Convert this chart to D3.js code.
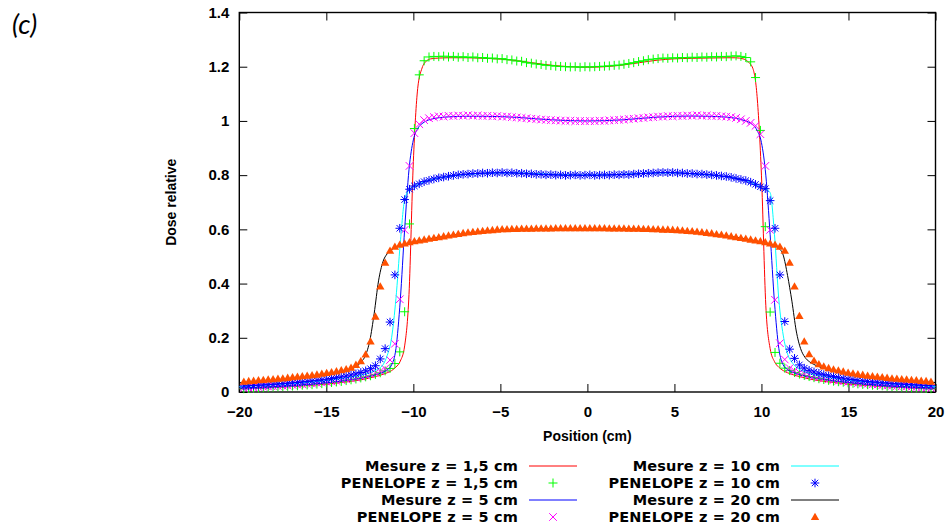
<!DOCTYPE html>
<html>
<head>
<meta charset="utf-8">
<script src="https://cdn.jsdelivr.net/npm/d3@7"></script>
<style>
  html, body { margin: 0; padding: 0; background: #ffffff; }
  svg { display: block; }
</style>
</head>
<body>
<svg id="chart" width="952" height="529"></svg>
<script>
// ---------------- DATA ----------------
const xTickValues = [-20, -15, -10, -5, 0, 5, 10, 15, 20];
const yTickValues = [0, 0.2, 0.4, 0.6, 0.8, 1, 1.2, 1.4];

// Measurement positions (cm)
const mesureX = [-20,-19,-18,-17,-16,-15,-14,-13.5,-13,-12.75,-12.5,-12.25,-12,-11.75,-11.5,-11.25,-11,-10.75,-10.5,-10.25,-10,-9.75,-9.5,-9.25,-9,-8.5,-8,-7,-6,-5,-4,-3,-2,-1,0,1,2,3,4,5,6,7,8,8.5,9,9.25,9.5,9.75,10,10.25,10.5,10.75,11,11.25,11.5,11.75,12,12.25,12.5,12.75,13,13.5,14,15,16,17,18,19,20];

const mesure15 = [0.012,0.014,0.017,0.020,0.024,0.029,0.036,
  0.040,0.045,0.048,0.052,0.056,0.060,0.065,0.071,0.079,0.092,
  0.114,0.17,0.36,0.85,1.12,1.195,1.221,1.229,
  1.232,1.233,1.233,1.231,1.228,1.222,1.213,1.205,1.200,
  1.198,
  1.200,1.206,1.215,1.224,1.229,1.231,1.232,1.233,1.233,
  1.228,1.217,1.195,1.09,0.80,0.32,0.16,0.112,
  0.091,0.079,0.071,0.065,0.060,0.056,0.052,0.048,0.045,0.040,
  0.036,0.029,0.024,0.020,0.017,0.014,0.012];

const mesure5 = [0.015,0.017,0.020,0.024,0.028,0.034,0.041,
  0.046,0.051,0.054,0.058,0.062,0.067,0.073,0.082,0.10,0.16,
  0.34,0.60,0.82,0.93,0.972,0.99,1.0,1.006,
  1.012,1.015,1.017,1.017,1.016,1.013,1.008,1.004,1.001,
  1.000,
  1.001,1.004,1.009,1.014,1.017,1.018,1.017,1.014,1.010,
  1.002,0.996,0.986,0.965,0.92,0.80,0.58,0.33,
  0.16,0.10,0.083,0.074,0.068,0.063,0.059,0.055,0.052,0.047,
  0.042,0.035,0.029,0.024,0.020,0.017,0.015];

const mesure10 = [0.020,0.023,0.027,0.031,0.036,0.042,0.051,
  0.056,0.062,0.066,0.071,0.077,0.086,0.10,0.135,0.20,0.345,
  0.55,0.71,0.745,0.757,0.765,0.772,0.778,0.783,
  0.790,0.795,0.802,0.806,0.808,0.808,0.806,0.803,0.801,
  0.800,
  0.801,0.803,0.806,0.808,0.808,0.805,0.800,0.794,0.789,
  0.782,0.777,0.770,0.762,0.752,0.748,0.735,0.58,
  0.34,0.21,0.14,0.11,0.092,0.082,0.075,0.069,0.064,0.058,
  0.052,0.043,0.037,0.032,0.027,0.023,0.020];

const mesure20 = [0.034,0.038,0.043,0.049,0.056,0.065,0.077,
  0.086,0.11,0.135,0.19,0.29,0.41,0.48,0.51,0.525,0.535,
  0.541,0.546,0.550,0.554,0.557,0.560,0.563,0.566,
  0.571,0.576,0.585,0.592,0.597,0.600,0.601,0.602,0.602,
  0.602,
  0.602,0.602,0.601,0.599,0.596,0.591,0.584,0.576,0.571,
  0.566,0.563,0.560,0.557,0.553,0.550,0.546,0.540,
  0.530,0.505,0.43,0.335,0.225,0.16,0.128,0.112,0.102,0.089,
  0.080,0.067,0.057,0.050,0.044,0.039,0.035];

// PENELOPE bin centres (cm)
const penX = [-19.74,-19.46,-19.18,-18.90,-18.62,-18.34,-18.06,-17.78,-17.50,-17.22,
  -16.94,-16.66,-16.38,-16.10,-15.82,-15.54,-15.26,-14.98,-14.70,-14.42,
  -14.14,-13.86,-13.58,-13.30,-13.02,-12.74,-12.46,-12.18,-11.90,-11.62,
  -11.34,-11.06,-10.78,-10.50,-10.22,-9.94,-9.66,-9.38,-9.10,-8.82,
  -8.54,-8.26,-7.98,-7.70,-7.42,-7.14,-6.86,-6.58,-6.30,-6.02,
  -5.74,-5.46,-5.18,-4.90,-4.62,-4.34,-4.06,-3.78,-3.50,-3.22,
  -2.94,-2.66,-2.38,-2.10,-1.82,-1.54,-1.26,-0.98,-0.70,-0.42,-0.14,
  0.14,0.42,0.70,0.98,1.26,1.54,1.82,2.10,2.38,2.66,
  2.94,3.22,3.50,3.78,4.06,4.34,4.62,4.90,5.18,5.46,
  5.74,6.02,6.30,6.58,6.86,7.14,7.42,7.70,7.98,8.26,
  8.54,8.82,9.10,9.38,9.66,9.94,10.22,10.50,10.78,11.06,
  11.34,11.62,11.90,12.18,12.46,12.74,13.02,13.30,13.58,13.86,
  14.14,14.42,14.70,14.98,15.26,15.54,15.82,16.10,16.38,16.66,
  16.94,17.22,17.50,17.78,18.06,18.34,18.62,18.90,19.18,19.46,19.74];

const penelope15 = [0.012,0.013,0.014,0.015,0.016,0.017,0.018,0.019,0.020,0.021,
  0.022,0.023,0.025,0.026,0.027,0.029,0.031,0.033,0.035,0.037,
  0.039,0.042,0.045,0.048,0.052,0.056,0.060,0.065,0.071,0.078,
  0.087,0.105,0.148,0.296,0.620,0.972,1.170,1.222,1.236,1.238,
  1.237,1.239,1.236,1.238,1.235,1.237,1.234,1.236,1.233,1.234,
  1.231,1.232,1.229,1.230,1.226,1.225,1.221,1.220,1.215,1.213,
  1.210,1.208,1.205,1.204,1.202,1.201,1.200,1.199,1.200,1.198,1.200,
  1.199,1.200,1.201,1.202,1.203,1.205,1.206,1.209,1.212,1.215,
  1.219,1.222,1.226,1.228,1.230,1.232,1.231,1.233,1.232,1.234,
  1.233,1.235,1.234,1.236,1.235,1.237,1.236,1.238,1.237,1.239,
  1.240,1.238,1.234,1.218,1.160,0.965,0.610,0.295,0.146,0.106,
  0.088,0.079,0.072,0.066,0.061,0.057,0.053,0.049,0.046,0.043,
  0.040,0.038,0.036,0.034,0.032,0.030,0.028,0.027,0.025,0.024,
  0.023,0.021,0.020,0.019,0.018,0.017,0.016,0.015,0.014,0.013,0.012];

const penelope5 = [0.015,0.016,0.017,0.018,0.019,0.020,0.021,0.022,0.023,0.024,
  0.026,0.027,0.028,0.030,0.031,0.033,0.035,0.037,0.039,0.041,
  0.044,0.047,0.050,0.053,0.057,0.061,0.066,0.071,0.077,0.086,
  0.118,0.178,0.342,0.598,0.834,0.955,0.988,1.003,1.010,1.014,
  1.017,1.016,1.019,1.018,1.020,1.019,1.021,1.019,1.020,1.018,
  1.019,1.017,1.018,1.016,1.016,1.014,1.013,1.011,1.010,1.008,
  1.007,1.005,1.004,1.003,1.002,1.001,1.000,1.001,0.999,1.000,0.999,
  1.000,0.999,1.001,1.000,1.002,1.003,1.004,1.005,1.007,1.008,
  1.010,1.011,1.013,1.014,1.016,1.016,1.018,1.017,1.019,1.018,
  1.020,1.019,1.021,1.019,1.020,1.018,1.019,1.017,1.016,1.014,
  1.011,1.006,1.000,0.993,0.982,0.951,0.834,0.598,0.340,0.180,
  0.120,0.088,0.078,0.072,0.067,0.062,0.058,0.054,0.050,0.047,
  0.044,0.041,0.039,0.037,0.035,0.033,0.031,0.030,0.028,0.027,
  0.025,0.024,0.023,0.022,0.021,0.020,0.019,0.018,0.017,0.016,0.015];

const penelope10 = [0.022,0.023,0.024,0.025,0.026,0.027,0.028,0.030,0.031,0.032,
  0.034,0.035,0.037,0.039,0.041,0.043,0.045,0.047,0.050,0.053,
  0.056,0.059,0.063,0.067,0.072,0.078,0.086,0.097,0.122,0.160,
  0.258,0.432,0.604,0.710,0.748,0.760,0.768,0.776,0.781,0.786,
  0.790,0.793,0.796,0.799,0.801,0.803,0.804,0.806,0.806,0.808,
  0.807,0.809,0.808,0.810,0.808,0.809,0.807,0.807,0.805,0.805,
  0.803,0.803,0.801,0.802,0.800,0.801,0.799,0.800,0.801,0.799,0.800,
  0.801,0.799,0.800,0.801,0.800,0.802,0.801,0.803,0.802,0.804,
  0.805,0.806,0.807,0.808,0.809,0.810,0.809,0.810,0.808,0.808,
  0.806,0.806,0.804,0.804,0.802,0.801,0.799,0.797,0.795,0.792,
  0.788,0.784,0.780,0.774,0.766,0.757,0.750,0.706,0.604,0.432,
  0.260,0.158,0.124,0.100,0.088,0.080,0.074,0.069,0.064,0.060,
  0.057,0.054,0.051,0.048,0.046,0.043,0.041,0.039,0.037,0.036,
  0.034,0.033,0.031,0.030,0.029,0.028,0.027,0.026,0.025,0.024,0.023];

const penelope20 = [0.038,0.040,0.041,0.043,0.044,0.046,0.047,0.049,0.050,0.052,
  0.054,0.056,0.058,0.060,0.062,0.064,0.067,0.070,0.073,0.076,
  0.080,0.084,0.089,0.100,0.113,0.138,0.186,0.278,0.389,0.477,
  0.521,0.536,0.543,0.548,0.552,0.556,0.559,0.562,0.565,0.568,
  0.571,0.574,0.577,0.580,0.583,0.586,0.588,0.590,0.592,0.594,
  0.596,0.597,0.599,0.600,0.600,0.601,0.601,0.602,0.602,0.602,
  0.603,0.603,0.603,0.603,0.604,0.604,0.604,0.604,0.604,0.604,0.604,
  0.604,0.604,0.604,0.604,0.603,0.603,0.603,0.603,0.602,0.602,
  0.602,0.601,0.601,0.600,0.600,0.599,0.599,0.598,0.597,0.596,
  0.594,0.593,0.591,0.589,0.587,0.585,0.582,0.580,0.577,0.574,
  0.571,0.568,0.565,0.562,0.559,0.556,0.552,0.548,0.543,0.536,
  0.521,0.477,0.389,0.280,0.186,0.139,0.115,0.102,0.094,0.088,
  0.083,0.079,0.075,0.071,0.068,0.065,0.063,0.060,0.058,0.056,
  0.054,0.052,0.050,0.049,0.047,0.046,0.044,0.043,0.041,0.040,0.038];

const seriesNames = ["Mesure z = 1,5 cm", "PENELOPE z = 1,5 cm", "Mesure z = 5 cm", "PENELOPE z = 5 cm",
                     "Mesure z = 10 cm", "PENELOPE z = 10 cm", "Mesure z = 20 cm", "PENELOPE z = 20 cm"];

// ---------------- CHART ----------------
const svg = d3.select("#chart");
const W = 952, H = 529;
svg.append("rect").attr("width", W).attr("height", H).attr("fill", "#fff");

const plot = { left: 239.3, right: 935.5, top: 12.5, bottom: 392 };
const x = d3.scaleLinear().domain([-20, 20]).range([plot.left, plot.right]);
const y = d3.scaleLinear().domain([0, 1.4]).range([plot.bottom, plot.top]);

const tickFont = "'Liberation Sans', Arial, sans-serif";
const fmtX = d => d < 0 ? "\u2212" + Math.abs(d) : String(d);
const fmtY = d => String(d);

// Axes with inward ticks
const gB = svg.append("g").attr("transform", `translate(0,${plot.bottom})`)
  .call(d3.axisBottom(x).tickValues(xTickValues).tickFormat(fmtX).tickSizeInner(-8).tickSizeOuter(0).tickPadding(14));
const gT = svg.append("g").attr("transform", `translate(0,${plot.top})`)
  .call(d3.axisTop(x).tickValues(xTickValues).tickFormat("").tickSizeInner(-8).tickSizeOuter(0));
const gL = svg.append("g").attr("transform", `translate(${plot.left},0)`)
  .call(d3.axisLeft(y).tickValues(yTickValues).tickFormat(fmtY).tickSizeInner(-8).tickSizeOuter(0).tickPadding(10));
const gR = svg.append("g").attr("transform", `translate(${plot.right},0)`)
  .call(d3.axisRight(y).tickValues(yTickValues).tickFormat("").tickSizeInner(-8).tickSizeOuter(0));

[gB, gT, gL, gR].forEach(g => {
  g.select(".domain").remove();
  g.selectAll(".tick line").attr("stroke", "#000").attr("stroke-width", 1);
  g.selectAll(".tick text").attr("fill", "#000")
    .style("font-family", tickFont).style("font-weight", "bold").style("font-size", "15px");
});

// Border
svg.append("rect")
  .attr("x", plot.left).attr("y", plot.top)
  .attr("width", plot.right - plot.left).attr("height", plot.bottom - plot.top)
  .attr("fill", "none").attr("stroke", "#000").attr("stroke-width", 1.4);

// Axis titles
svg.append("text")
  .attr("x", (plot.left + plot.right) / 2).attr("y", 441)
  .attr("text-anchor", "middle")
  .style("font-family", tickFont).style("font-weight", "bold").style("font-size", "14px")
  .text("Position (cm)");
svg.append("text")
  .attr("transform", `translate(176,${(plot.top + plot.bottom) / 2}) rotate(-90)`)
  .attr("text-anchor", "middle")
  .style("font-family", tickFont).style("font-weight", "bold").style("font-size", "14px")
  .text("Dose relative");

// Panel label
svg.append("text")
  .attr("x", 12).attr("y", 34)
  .style("font-family", "Lato, 'Open Sans', sans-serif").style("font-style", "italic").style("font-size", "27px")
  .text("(c)");

// Marker shapes
const markerPath = {
  plus:  "M-4.5,0H4.5M0,-4.5V4.5",
  cross: "M-3.8,-3.8L3.8,3.8M-3.8,3.8L3.8,-3.8",
  star:  "M-4.3,0H4.3M0,-4.3V4.3M-3.2,-3.2L3.2,3.2M-3.2,3.2L3.2,-3.2",
  tri:   "M0,-4.3L4.2,3L-4.2,3Z"
};

const series = [
  { name: seriesNames[0], kind: "line", xs: mesureX, ys: mesure15, color: "#ff0000" },
  { name: seriesNames[1], kind: "plus", xs: penX, ys: penelope15, color: "#00ff00" },
  { name: seriesNames[2], kind: "line", xs: mesureX, ys: mesure5, color: "#0000ff" },
  { name: seriesNames[3], kind: "cross", xs: penX, ys: penelope5, color: "#ff00ff" },
  { name: seriesNames[4], kind: "line", xs: mesureX, ys: mesure10, color: "#00ffff" },
  { name: seriesNames[5], kind: "star", xs: penX, ys: penelope10, color: "#0000ff" },
  { name: seriesNames[6], kind: "line", xs: mesureX, ys: mesure20, color: "#000000" },
  { name: seriesNames[7], kind: "tri", xs: penX, ys: penelope20, color: "#ff5000" }
];

const lineGen = d3.line().x(d => x(d[0])).y(d => y(d[1])).curve(d3.curveMonotoneX);

series.forEach(s => {
  const pts = s.xs.map((v, i) => [v, s.ys[i]]).filter(p => p[1] !== undefined);
  if (s.kind === "line") {
    svg.append("path").datum(pts)
      .attr("d", lineGen).attr("fill", "none")
      .attr("stroke", s.color).attr("stroke-width", 1);
  } else {
    const g = svg.append("g");
    g.selectAll("path").data(pts).join("path")
      .attr("transform", d => `translate(${x(d[0])},${y(d[1])})`)
      .attr("d", markerPath[s.kind])
      .attr("fill", s.kind === "tri" ? s.color : "none")
      .attr("stroke", s.kind === "tri" ? "none" : s.color)
      .attr("stroke-width", 1);
  }
});

// Legend
const legendCols = [{ textX: 518, x0: 529, x1: 577 }, { textX: 780, x0: 791, x1: 839 }];
const legendRows = [466, 483, 500, 517];
const legendFont = "'DejaVu Sans', sans-serif";
series.forEach((s, i) => {
  const col = legendCols[Math.floor(i / 4)];
  const ry = legendRows[i % 4];
  svg.append("text")
    .attr("x", col.textX).attr("y", ry + 5.4)
    .attr("text-anchor", "end")
    .style("font-family", legendFont).style("font-weight", "bold").style("font-size", "14.5px")
    .style("letter-spacing", "0.15px")
    .text(s.name);
  if (s.kind === "line") {
    svg.append("line").attr("x1", col.x0).attr("x2", col.x1).attr("y1", ry).attr("y2", ry)
      .attr("stroke", s.color).attr("stroke-width", 1);
  } else {
    svg.append("path")
      .attr("transform", `translate(${(col.x0 + col.x1) / 2},${ry})`)
      .attr("d", markerPath[s.kind])
      .attr("fill", s.kind === "tri" ? s.color : "none")
      .attr("stroke", s.kind === "tri" ? "none" : s.color)
      .attr("stroke-width", 1);
  }
});
</script>
</body>
</html>
